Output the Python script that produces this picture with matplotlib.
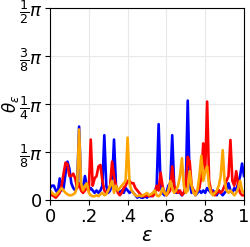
import numpy as np
import matplotlib
matplotlib.use('Agg')
import matplotlib.pyplot as plt

# values in units of pi/8, sampled at eps = 0, 0.01, ..., 1
eps = np.linspace(0, 1, 101)

blue = [0.25, 0.3, 0.3, 0.2, 0.15, 0.45, 0.2, 0.25, 0.55, 0.8,
        0.65, 0.35, 0.25, 0.2, 0.3, 1.53, 0.3, 0.2, 0.5, 0.3,
        0.2, 0.25, 0.2, 0.15, 0.2, 0.15, 0.2, 0.3, 1.35, 0.3,
        0.15, 0.2, 0.35, 1.26, 0.3, 0.2, 0.15, 0.2, 0.15, 0.25,
        0.2, 0.15, 0.2, 0.15, 0.1, 0.05, 0.08, 0.05, 0.05, 0.08,
        0.05, 0.1, 0.08, 0.1, 0.15, 0.3, 1.58, 0.3, 0.15, 0.1,
        0.15, 0.3, 0.35, 1.35, 0.3, 0.15, 0.2, 0.15, 0.1, 0.15,
        0.3, 2.07, 0.35, 0.15, 0.2, 0.1, 0.15, 0.2, 0.15, 0.2,
        0.15, 0.25, 0.2, 0.15, 0.2, 0.15, 0.1, 0.2, 0.15, 0.1,
        0.15, 0.2, 0.35, 0.2, 0.15, 0.25, 0.2, 0.35, 0.5, 0.76,
        0.5]

red = [0.15, 0.1, 0.08, 0.05, 0.1, 0.15, 0.3, 0.55, 0.78, 0.75,
       0.5, 0.5, 0.55, 0.45, 0.25, 0.35, 0.2, 0.15, 0.2, 0.25,
       0.2, 1.26, 0.3, 0.45, 0.5, 0.7, 0.73, 0.4, 0.2, 0.15,
       0.2, 0.3, 0.8, 0.5, 0.3, 0.15, 0.1, 0.15, 0.25, 0.3,
       0.4, 0.4, 0.35, 0.35, 0.25, 0.2, 0.15, 0.1, 0.08, 0.08,
       0.1, 0.08, 0.1, 0.08, 0.15, 0.3, 0.2, 0.57, 0.3, 0.15,
       0.1, 0.15, 0.2, 0.7, 0.3, 0.2, 0.15, 0.2, 0.1, 0.15,
       0.3, 0.9, 0.8, 0.3, 0.2, 0.15, 0.2, 0.25, 0.5, 1.18,
       0.6, 2.05, 0.4, 0.2, 0.15, 0.1, 0.15, 0.2, 0.15, 0.2,
       0.3, 0.4, 0.5, 1.25, 0.4, 0.3, 0.6, 0.3, 0.15, 0.1,
       0.1]

orange = [0.2, 0.15, 0.12, 0.1, 0.15, 0.2, 0.25, 0.2, 0.15, 0.12,
          0.1, 0.1, 0.12, 0.15, 0.3, 1.47, 0.35, 0.2, 0.3, 0.35,
          0.15, 0.1, 0.08, 0.08, 0.1, 0.08, 0.12, 0.15, 0.1, 0.12,
          0.2, 0.3, 0.4, 0.15, 0.3, 0.2, 0.25, 0.3, 0.35, 0.4,
          1.3, 0.35, 0.2, 0.15, 0.1, 0.08, 0.1, 0.08, 0.1, 0.12,
          0.15, 0.1, 0.12, 0.15, 0.2, 0.1, 0.08, 0.12, 0.25, 0.15,
          0.1, 0.2, 0.4, 0.25, 0.15, 0.2, 0.3, 0.5, 0.87, 0.3,
          0.15, 0.2, 0.6, 0.3, 0.15, 0.1, 0.2, 0.5, 0.92, 0.4,
          0.6, 0.7, 0.3, 0.15, 0.1, 0.15, 0.2, 0.3, 0.5, 1.04,
          0.4, 0.2, 0.15, 0.2, 0.15, 0.1, 0.15, 0.25, 0.4, 0.2,
          0.15]

xticks = [0, 0.2, 0.4, 0.6, 0.8, 1]
xticklabels = ['0', '.2', '.4', '.6', '.8', '1']
yticks = [0, np.pi/8, np.pi/4, 3*np.pi/8, np.pi/2]
yticklabels = ['0', r'$\frac{1}{8}\pi$', r'$\frac{1}{4}\pi$',
               r'$\frac{3}{8}\pi$', r'$\frac{1}{2}\pi$']

fig = plt.figure(figsize=(2.5, 2.47), dpi=100)
ax = fig.add_axes([0.2, 0.19, 0.776, 0.778])

unit = np.pi / 8
ax.plot(eps, np.array(blue) * unit, color='blue', lw=1.9)
ax.plot(eps, np.array(red) * unit, color='red', lw=1.9)
ax.plot(eps, np.array(orange) * unit, color='orange', lw=1.9)

ax.set_xlim(0, 1)
ax.set_ylim(0, np.pi/2)
ax.set_xticks(xticks)
ax.set_xticklabels(xticklabels)
ax.set_yticks(yticks)
ax.set_yticklabels(yticklabels)
ax.tick_params(labelsize=13, pad=2)
ax.grid(color='#e8e8e8', linewidth=0.8)
ax.set_xlabel(r'$\varepsilon$', fontsize=14, labelpad=0)
ax.set_ylabel(r'$\theta_\varepsilon$', fontsize=12)
ax.yaxis.set_label_coords(-0.152, 0.5)

fig.savefig('out.png', dpi=100)
